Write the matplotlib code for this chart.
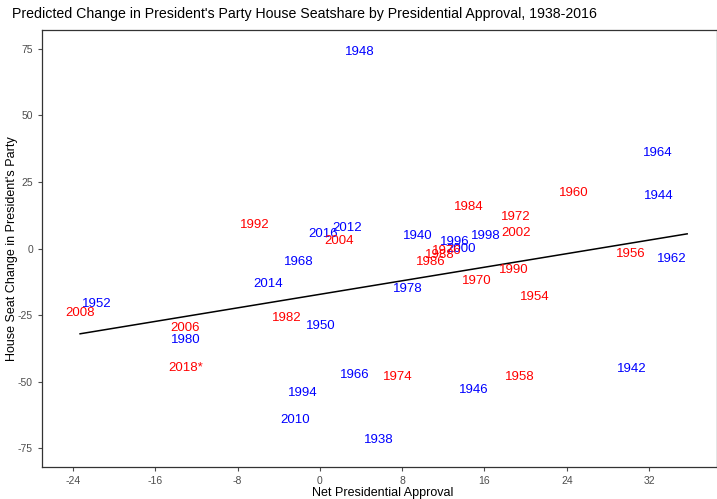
import matplotlib
matplotlib.use("Agg")
import matplotlib.pyplot as plt

plt.rcParams["font.family"] = ["Liberation Sans", "DejaVu Sans"]
plt.rcParams["axes.unicode_minus"] = False

# Election years and their positions (net approval, seat change)
years = ["1948", "1964", "1944", "1960", "1984", "1972", "1992", "2012", "2016",
         "2004", "1940", "2002", "1998", "1996", "2000", "1976", "1988", "1986",
         "1968", "1956", "1962", "1990", "2014", "1970", "1978", "1954", "1952",
         "2008", "1982", "1950", "2006", "1980", "2018*", "1942", "1966", "1974",
         "1958", "1946", "1994", "2010", "1938"]
approval = [3.9, 32.8, 32.9, 24.7, 14.5, 19.0, -6.3, 2.7, 0.3,
            1.9, 9.5, 19.1, 16.1, 13.1, 13.7, 12.3, 11.7, 10.8,
            -2.0, 30.2, 34.2, 18.8, -5.0, 15.3, 8.5, 20.9, -21.7,
            -23.3, -3.2, 0.1, -13.1, -13.0, -13.0, 30.3, 3.4, 7.6,
            19.4, 15.0, -1.7, -2.4, 5.7]
seat_change = [73.8, 35.9, 19.7, 20.9, 15.7, 11.9, 8.9, 7.8, 5.5,
               2.9, 4.8, 5.9, 4.8, 2.5, -0.1, -0.9, -2.4, -5.0,
               -5.0, -2.0, -3.9, -8.0, -13.3, -12.3, -15.2, -18.1, -20.8,
               -24.2, -26.0, -29.0, -29.8, -34.3, -44.8, -45.2, -47.4, -48.2,
               -48.2, -53.0, -54.2, -64.3, -71.8]
party = ["D", "D", "D", "R", "R", "R", "R", "D", "D",
         "R", "D", "R", "D", "D", "D", "R", "R", "R",
         "D", "R", "D", "R", "D", "R", "D", "R", "D",
         "R", "R", "D", "R", "D", "R", "D", "D", "R",
         "R", "D", "D", "D", "D"]

# fitted line end points
fit_x = [-23.3, 35.7]
fit_y = [-32.0, 5.5]

colors = {"D": "#0000FF", "R": "#FF0000"}

fig = plt.figure(figsize=(7.17, 4.99), dpi=100)
ax = fig.add_axes([0.0586, 0.064, 0.9414, 0.876])

for yr, x, y, p in zip(years, approval, seat_change, party):
    ax.text(x, y, yr, color=colors[p], fontsize=9.5, ha="center", va="center")

ax.plot(fit_x, fit_y, color="black", linewidth=1.1)

ax.set_xlim(-27.0, 38.6)
ax.set_ylim(-82, 82)
ax.set_xticks([-24, -16, -8, 0, 8, 16, 24, 32])
ax.set_yticks([-75, -50, -25, 0, 25, 50, 75])
ax.tick_params(colors="#4D4D4D", labelsize=7.5, length=3, width=0.8)
for s in ax.spines.values():
    s.set_color("#333333")
    s.set_linewidth(0.9)

ax.set_xlabel("Net Presidential Approval", fontsize=9, va="center", ha="center")
ax.set_ylabel("House Seat Change in President's Party", fontsize=9, va="center", ha="center")
ax.xaxis.set_label_coords(0.504, -0.059)
ax.yaxis.set_label_coords(-0.044, 0.5)
fig.text(0.017, 0.972, "Predicted Change in President's Party House Seatshare by Presidential Approval, 1938-2016",
         fontsize=10.2, ha="left", va="center")

fig.savefig("out.png", dpi=100)
